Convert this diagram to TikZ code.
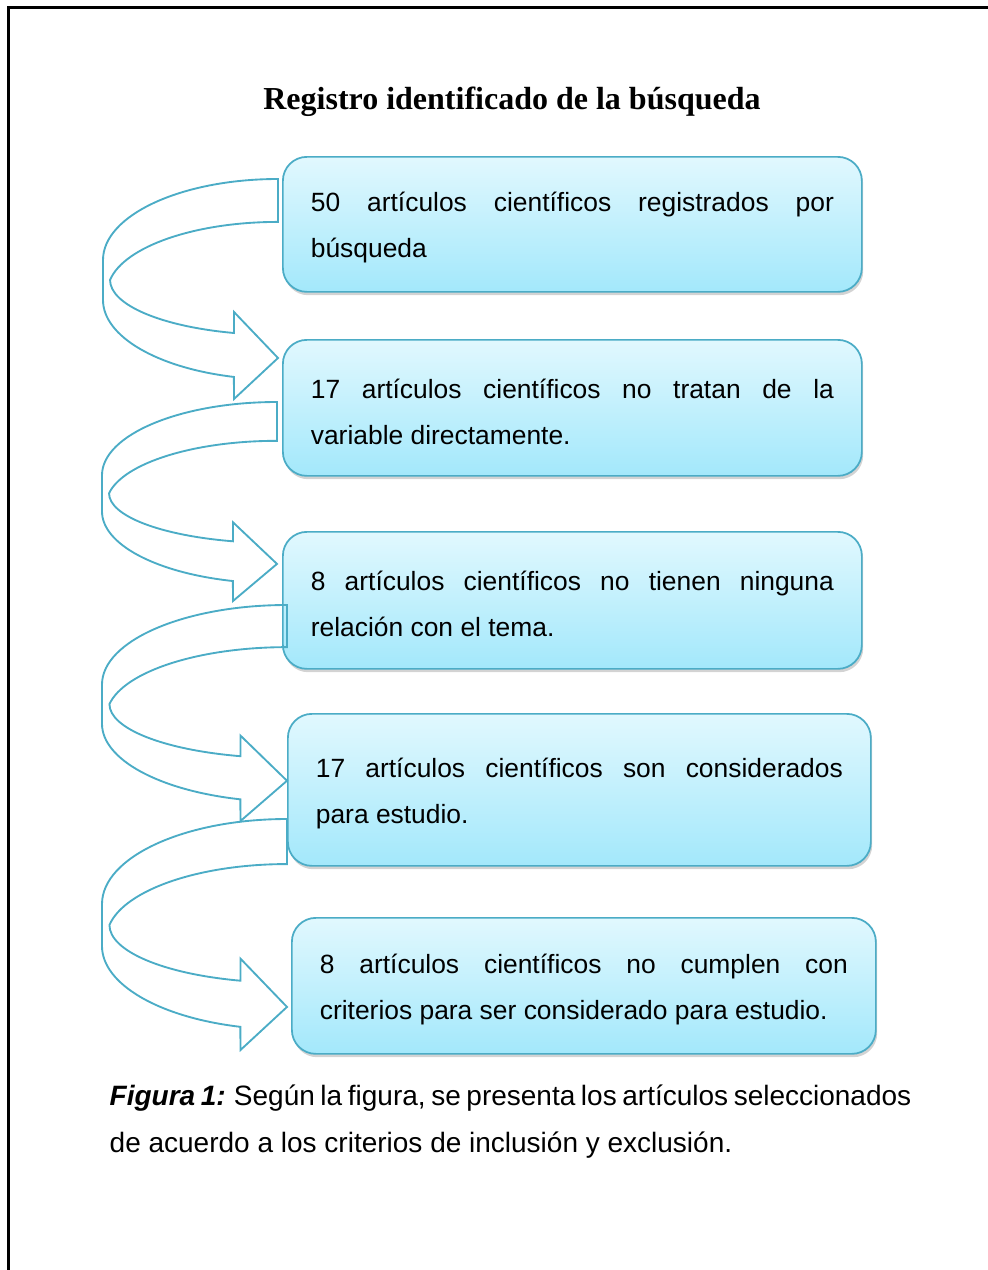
\documentclass[tikz,border=0pt]{standalone}
\usepackage{fontspec}
\setmainfont{Liberation Sans}
\newfontfamily\titlefont{Liberation Serif}
\usetikzlibrary{positioning,shadows}

\definecolor{boxline}{HTML}{4BACC6}
\definecolor{boxtop}{HTML}{E1F8FE}
\definecolor{boxbottom}{HTML}{A3E8FB}

\newcommand{\boxfont}{\fontsize{19.8}{34.5}\selectfont\tolerance=10000\hyphenpenalty=10000\relax}

\newcommand{\bendarrow}[4]{%
  \begin{scope}[shift={(#1,-#2)}, xscale=#3/175, yscale=#4/220]
    \draw[bandarrow] (0,0) arc[start angle=90, end angle=180, x radius=175, y radius=81]
      -- (-175,-121) arc[start angle=180, end angle=255.4, x radius=175, y radius=79.5]
      -- (-44,-220) -- (0,-179) -- (-44,-133) -- (-44,-154)
      arc[start angle=254.8, end angle=180, x radius=168, y radius=55]
      arc[start angle=170, end angle=90, x radius=170.5, y radius=70.2]
      -- cycle;
  \end{scope}}

\begin{document}
\begin{tikzpicture}[
    x=0.75pt, y=0.75pt,
    box/.style={rectangle, draw=boxline, line width=1.3pt, rounded corners=18pt,
      top color=boxtop, bottom color=boxbottom, anchor=north west, align=justify,
      inner xsep=21pt, font=\boxfont, execute at begin node={\rule{0pt}{20pt}},
      drop shadow={shadow xshift=1pt, shadow yshift=-2.5pt, opacity=0.35}},
    bandarrow/.style={draw=boxline, line width=1.4pt, line join=miter}
]
\useasboundingbox (0,0) rectangle (988,-1270);
\draw[line width=1.6pt] (988,-7.5) -- (8.5,-7.5) -- (8.5,-1270);

\node[font=\titlefont\bfseries\fontsize{24}{28}\selectfont] (title) at (512,-102) {Registro identificado de la búsqueda};

\node[box, text width=392.25pt, minimum height=101.25pt] (b1) at (282,-156)
  {50 artículos científicos registrados por\linebreak búsqueda};
\node[box, text width=392.25pt, minimum height=102pt] (b2) at (282,-339)
  {17 artículos científicos no tratan de la\linebreak variable directamente.};
\node[box, text width=392.25pt, minimum height=102.75pt] (b3) at (282,-531)
  {8 artículos científicos no tienen ninguna\linebreak relación con el tema.};
\node[box, text width=395.25pt, minimum height=114pt] (b4) at (287,-713)
  {17 artículos científicos son considerados\linebreak para estudio.};
\node[box, text width=396pt, minimum height=102pt] (b5) at (291,-917)
  {8 artículos científicos no cumplen con\linebreak criterios para ser considerado para estudio.};

\bendarrow{278}{179}{175}{220}
\bendarrow{277}{402}{175}{199}
\bendarrow{287}{605}{185}{216}
\bendarrow{287}{819}{185}{231}

\node[anchor=base west, align=left, font=\fontsize{21}{35.25}\selectfont] (caption) at (105,-1152)
  {{\spaceskip=0.2em {\bfseries\itshape Figura 1:} Según la figura, se presenta los artículos seleccionados}\\de acuerdo a los criterios de inclusión y exclusión.};
\end{tikzpicture}
\end{document}
